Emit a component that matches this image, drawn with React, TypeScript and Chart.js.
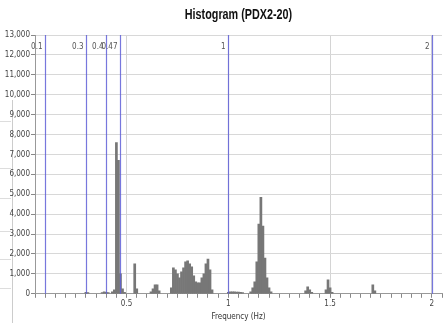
import React, { useEffect, useRef } from "react";
import { Chart, registerables } from "chart.js";

Chart.register(...registerables);

const TITLE = "Histogram (PDX2-20)";
const X_TITLE = "Frequency (Hz)";

const freqs = [
  0.3, 0.31, 0.38, 0.39, 0.4, 0.41, 0.43, 0.44, 0.45, 0.46, 0.47, 0.48, 0.49,
  0.54, 0.55, 0.62, 0.63, 0.64, 0.65, 0.66,
  0.72, 0.73, 0.74, 0.75, 0.76, 0.77, 0.78, 0.79, 0.8, 0.81, 0.82, 0.83, 0.84,
  0.85, 0.86, 0.87, 0.88, 0.89, 0.9, 0.91, 0.92,
  1.0, 1.01, 1.02, 1.03, 1.04, 1.05, 1.06, 1.07,
  1.11, 1.12, 1.13, 1.14, 1.15, 1.16, 1.17, 1.18, 1.19, 1.2, 1.21,
  1.38, 1.39, 1.4, 1.41, 1.48, 1.49, 1.5, 1.51, 1.71, 1.72,
];
const counts = [
  80, 60, 60, 100, 80, 60, 100, 200, 7600, 6700, 1000, 250, 80,
  1500, 250, 100, 250, 450, 450, 150,
  300, 1300, 1200, 1000, 800, 1100, 1300, 1600, 1650, 1500, 1350, 900, 600,
  550, 550, 800, 1000, 1500, 1750, 1200, 200,
  80, 100, 100, 100, 90, 90, 80, 60,
  100, 300, 600, 1600, 3500, 4850, 3400, 1800, 800, 300, 100,
  150, 350, 200, 80, 200, 700, 300, 80, 450, 150,
];

const markerValues = [0.1, 0.3, 0.4, 0.47, 1, 2];
const markerLabels = ["0.1", "0.3", "0.4", "0.47", "1", "2"];

const X_MIN = 0.05;
const X_MAX = 2.05;
const Y_MAX = 13000;

const NARROW = "'Liberation Sans Narrow', 'DejaVu Sans Condensed', Arial, sans-serif";

const markerPlugin = {
  id: "markers",
  afterDatasetsDraw(chart: any) {
    const { ctx, chartArea, scales } = chart;
    const x = scales.x;
    ctx.save();
    markerValues.forEach((v, i) => {
      const px = Math.round(x.getPixelForValue(v)) + 0.5;
      ctx.strokeStyle = "rgba(95,95,215,0.85)";
      ctx.lineWidth = 1.2;
      ctx.beginPath();
      ctx.moveTo(px, chartArea.top);
      ctx.lineTo(px, chartArea.bottom);
      ctx.stroke();
      ctx.fillStyle = "#555";
      ctx.font = `8px ${NARROW}`;
      ctx.textAlign = "right";
      ctx.textBaseline = "middle";
      ctx.fillText(markerLabels[i], px - 3, chartArea.top + 12);
    });
    ctx.restore();
  },
};

const titlePlugin = {
  id: "narrowTitle",
  afterDraw(chart: any) {
    const { ctx, chartArea } = chart;
    const cx = (chartArea.left + chartArea.right) / 2;
    ctx.save();
    ctx.translate(cx, 15);
    ctx.scale(0.72, 1);
    ctx.font = `bold 15px 'Liberation Sans', Arial, sans-serif`;
    ctx.fillStyle = "#111";
    ctx.textAlign = "center";
    ctx.textBaseline = "middle";
    ctx.fillText(TITLE, 0, 0);
    ctx.restore();
  },
};

function isMajor(v: number) {
  return Math.abs(v * 2 - Math.round(v * 2)) < 1e-6;
}

export default function App() {
  const ref = useRef<HTMLCanvasElement>(null);
  useEffect(() => {
    document.body.style.margin = "0";
    const chart = new Chart(ref.current!, {
      type: "bar",
      data: {
        datasets: [
          {
            data: freqs.map((f, i) => ({ x: f, y: counts[i] })),
            backgroundColor: "#777777",
            borderWidth: 0,
            barPercentage: 1,
            categoryPercentage: 1,
          },
        ],
      },
      options: {
        animation: false,
        responsive: false,
        layout: { padding: { left: 0, right: 0, top: 35, bottom: 0 } },
        plugins: {
          legend: { display: false },
          tooltip: { enabled: false },
          title: { display: false },
        },
        scales: {
          x: {
            type: "linear",
            min: X_MIN,
            max: X_MAX,
            offset: false,
            grid: {
              offset: false,
              color: (c: any) =>
                c.tick && isMajor(c.tick.value) ? "#d4d4d4" : "rgba(0,0,0,0)",
              tickColor: "#888",
              tickLength: 4,
            },
            border: { color: "#999" },
            ticks: {
              stepSize: 0.05,
              autoSkip: false,
              maxRotation: 0,
              padding: 1,
              color: "#444",
              font: { family: NARROW, size: 8 },
              callback: (v: any) => (isMajor(Number(v)) ? String(Math.round(Number(v) * 2) / 2) : ""),
            },
            title: {
              display: true,
              text: X_TITLE,
              color: "#333",
              font: { family: NARROW, size: 8 },
              padding: { top: 3, bottom: 1 },
            },
          },
          y: {
            min: 0,
            max: Y_MAX,
            grid: { color: "#d8d8d8", tickColor: "#888", tickLength: 4 },
            border: { color: "#999" },
            ticks: {
              stepSize: 1000,
              padding: 1,
              color: "#444",
              font: { family: NARROW, size: 8 },
              callback: (v: any) => Number(v).toLocaleString("en-US"),
            },
            afterFit: (s: any) => {
              s.width = 35;
            },
          },
        },
      },
      plugins: [markerPlugin, titlePlugin],
    });
    return () => chart.destroy();
  }, []);

  const sideLines = [121, 168, 198, 231, 259, 288];
  return (
    <div style={{ position: "fixed", left: 0, top: 0, width: 443, height: 323, background: "#fff", overflow: "hidden" }}>
      <div style={{ position: "absolute", left: 12, top: 100, width: 1, height: 223, background: "#ccc" }} />
      {sideLines.map((y) => (
        <div key={y} style={{ position: "absolute", left: 0, top: y, width: 11, height: 1, background: "#ddd" }} />
      ))}
      <canvas ref={ref} width={443} height={323} style={{ position: "absolute", left: 0, top: 0 }} />
    </div>
  );
}
